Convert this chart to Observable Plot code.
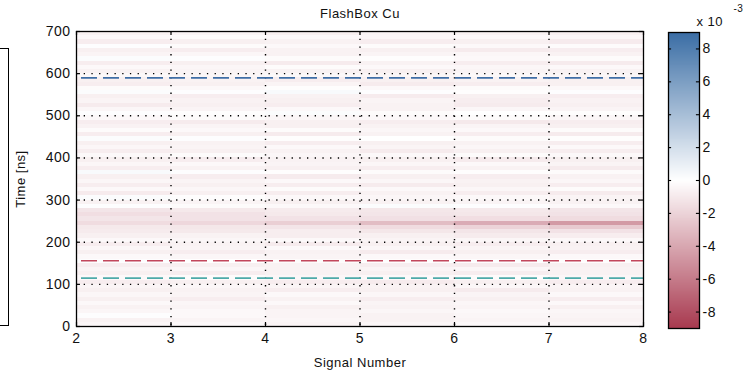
<!DOCTYPE html>
<html><head><meta charset="utf-8">
<script src="https://cdn.jsdelivr.net/npm/d3@7"></script>
<script src="https://cdn.jsdelivr.net/npm/@observablehq/plot@0.6"></script>
<style>
body{margin:0;background:#fff;}
#wrap{position:relative;width:750px;height:373px;overflow:hidden;background:#fff;}
#wrap svg{position:absolute;top:0;}
#cutbox{position:absolute;left:-2px;top:48px;width:9px;height:276px;border:1.3px solid #000;}
</style></head><body><div id="wrap"><div id="cutbox"></div></div>
<script>
// ---- data (values in units of 1e-3) ----
const title = "FlashBox Cu";
const xLabel = "Signal Number";
const yLabel = "Time [ns]";
const signalBins = [2, 3, 4, 5, 6, 7];           // left edge of each signal column (width 1)
const timeBins = [690,680,670,660,650,640,630,620,610,600,590,580,570,560,550,540,530,520,510,500,
  490,480,470,460,450,440,430,420,410,400,390,380,370,360,350,340,330,320,310,300,
  290,280,270,260,250,240,230,220,210,200,190,180,170,160,150,140,130,120,110,100,
  90,80,70,60,50,40,30,20,10,0];                   // lower edge of each 10 ns row
const values = [
[-0.6,-0.5,-0.7,-0.5,-0.6,-0.7],
[-0.3,-0.2,-0.3,-0.4,-0.3,-0.4],
[-0.8,-0.7,-0.6,-0.8,-0.7,-0.9],
[0.1,-0.2,-0.3,-0.2,-0.3,-0.2],
[-0.7,-0.8,-0.6,-0.7,-0.9,-0.8],
[-0.5,-0.4,-0.6,-0.5,-0.4,-0.6],
[0.2,0.1,-0.2,-0.1,-0.3,-0.2],
[-0.8,-0.7,-0.9,-0.6,-0.8,-0.9],
[-0.3,-0.4,-0.2,-0.3,-0.4,-0.3],
[-0.6,-0.5,-0.6,-0.7,-0.5,-0.6],
[-0.3,-0.4,-0.3,-0.4,-0.3,-0.4],
[-0.7,-0.6,-0.8,-0.7,-0.6,-0.7],
[-0.8,-0.7,-0.5,-0.9,-0.8,-0.7],
[-0.2,-0.3,-0.1,-0.3,-0.2,-0.3],
[0.2,0.1,0.3,0.1,-0.1,0.1],
[-0.7,-0.8,-0.6,-0.9,-0.7,-0.8],
[-0.5,-0.6,-0.7,-0.5,-0.8,-0.6],
[-0.9,-0.7,-0.8,-0.6,-0.9,-0.7],
[-0.4,-0.5,-0.3,-0.6,-0.4,-0.5],
[0.1,-0.1,0.2,-0.2,0.0,-0.1],
[-0.3,-0.2,-0.4,-0.3,-0.2,-0.4],
[-0.8,-0.9,-0.7,-0.8,-1.0,-0.8],
[-0.6,-0.5,-0.7,-0.6,-0.5,-0.7],
[-0.2,-0.3,-0.2,-0.4,-0.3,-0.2],
[-0.8,-0.7,-0.9,-0.6,-0.8,-0.9],
[0.2,0.1,-0.1,0.0,-0.2,-0.1],
[-0.7,-0.6,-0.8,-0.7,-0.6,-0.8],
[-0.4,-0.5,-0.3,-0.5,-0.4,-0.3],
[-0.8,-0.7,-0.6,-0.9,-0.7,-0.8],
[-0.3,-0.2,-0.4,-0.3,-0.2,-0.3],
[-0.7,-0.8,-0.6,-0.7,-0.9,-0.7],
[-0.4,-0.3,-0.5,-0.4,-0.3,-0.5],
[-0.8,-0.6,-0.7,-0.8,-0.6,-0.9],
[0.3,0.1,-0.1,-0.2,-0.1,-0.2],
[-0.7,-0.8,-0.9,-0.7,-0.8,-0.6],
[-0.4,-0.5,-0.3,-0.4,-0.6,-0.4],
[-0.8,-0.7,-0.8,-0.9,-0.7,-0.8],
[-0.3,-0.4,-0.2,-0.3,-0.4,-0.2],
[-0.9,-0.7,-0.8,-0.6,-0.8,-0.9],
[0.2,-0.1,-0.3,-0.4,-0.3,-0.5],
[-0.6,-0.5,-0.7,-0.6,-0.5,-0.6],
[0.1,-0.2,-0.3,0.2,0.1,-0.3],
[-1.2,-1.0,-0.9,-1.1,-1.0,-1.2],
[-1.5,-1.3,-1.0,-1.2,-1.1,-1.3],
[-1.2,-1.3,-1.3,-1.4,-1.5,-1.6],
[-1.6,-1.8,-2.2,-3.0,-3.8,-4.6],
[-1.0,-1.1,-1.2,-1.6,-2.0,-2.4],
[-0.9,-1.0,-0.8,-1.1,-1.2,-1.3],
[-0.7,-0.6,-0.8,-0.7,-0.9,-0.8],
[-0.3,-0.4,-0.3,-0.5,-0.4,-0.3],
[-0.8,-0.6,-0.9,-0.7,-0.8,-0.7],
[-0.4,-0.5,-0.3,-0.4,-0.5,-0.6],
[-0.7,-0.8,-0.6,-0.9,-0.7,-0.8],
[-0.3,-0.4,-0.5,-0.3,-0.4,-0.3],
[0.1,0.0,-0.2,-0.1,0.1,-0.1],
[-0.8,-0.7,-0.6,-0.8,-0.9,-0.7],
[-0.5,-0.4,-0.6,-0.5,-0.4,-0.6],
[-0.7,-0.8,-0.6,-0.7,-0.8,-0.6],
[-0.3,-0.2,-0.4,-0.3,-0.2,-0.4],
[-0.8,-0.7,-0.8,-0.9,-0.7,-0.8],
[-0.5,-0.4,-0.5,-0.6,-0.4,-0.5],
[-0.7,-0.6,-0.8,-0.7,-0.9,-0.6],
[-0.4,-0.5,-0.3,-0.4,-0.5,-0.3],
[-0.7,-0.8,-0.6,-0.8,-0.7,-0.8],
[-0.3,-0.4,-0.3,-0.5,-0.4,-0.3],
[-0.6,-0.5,-0.7,-0.6,-0.5,-0.7],
[-0.4,-0.3,-0.5,-0.4,-0.3,-0.4],
[0.1,-0.3,-0.5,-0.6,-0.4,-0.5],
[-0.6,-0.5,-0.4,-0.6,-0.5,-0.6],
[-0.4,-0.3,-0.5,-0.4,-0.3,-0.4]
];
const markerLines = [
  {t: 590, color: "#3f6ea6"},
  {t: 156, color: "#c2475c"},
  {t: 115, color: "#4eaaa9"}
];
const xTicks = [2, 3, 4, 5, 6, 7, 8];
const yTicks = [0, 100, 200, 300, 400, 500, 600, 700];
const xGrid = [3, 4, 5, 6, 7];
const yGrid = [100, 200, 300, 400, 500, 600];
const cbTicks = [-8, -6, -4, -2, 0, 2, 4, 6, 8];
const cbTickLabels = ["-8", "-6", "-4", "-2", "0", "2", "4", "6", "8"];
const cbDomain = [-9, 9];

// ---- build table ----
const cells = [];
timeBins.forEach((t, i) => signalBins.forEach((s, j) =>
  cells.push({x1: s, x2: s + 1, y1: t, y2: t + 10, v: values[i][j]})));

const colorScale = {type: "linear", domain: [-9, 0, 9], range: ["#a8394f", "#ffffff", "#3b6ea5"], clamp: true};
const font = {fontFamily: "'Liberation Sans', Arial, sans-serif", fontSize: "14px", letterSpacing: "0.5px", color: "#111", background: "transparent"};

const main = Plot.plot({
  width: 650, height: 373,
  marginLeft: 76, marginRight: 7, marginTop: 31, marginBottom: 47,
  style: font,
  x: {domain: [2, 8]},
  y: {domain: [0, 700]},
  color: colorScale,
  marks: [
    Plot.rect(cells, {x1: "x1", x2: "x2", y1: "y1", y2: "y2", fill: "v", shapeRendering: "crispEdges"}),
    Plot.ruleX(xGrid, {stroke: "#000", strokeWidth: 1.4, strokeDasharray: "1.3,6.4"}),
    Plot.ruleY(yGrid, {stroke: "#000", strokeWidth: 1.4, strokeDasharray: "1.3,6.4"}),
    Plot.ruleY(markerLines, {y: "t", stroke: "color", strokeWidth: 1.7, strokeDasharray: "16,6", strokeDashoffset: 17}),
    Plot.ruleX(xTicks, {y1: 0, y2: 9.5, stroke: "#000", strokeWidth: 1.2}),
    Plot.ruleX(xTicks, {y1: 690.5, y2: 700, stroke: "#000", strokeWidth: 1.2}),
    Plot.ruleY(yTicks, {x1: 2, x2: 2.042, stroke: "#000", strokeWidth: 1.2}),
    Plot.ruleY(yTicks, {x1: 7.958, x2: 8, stroke: "#000", strokeWidth: 1.2}),
    Plot.frame({stroke: "#000", strokeWidth: 1.3}),
    Plot.axisX(xTicks, {tickSize: 0, tickPadding: 7, label: null, tickFormat: d => String(d)}),
    Plot.axisY(yTicks, {tickSize: 0, tickPadding: 6, label: null, tickFormat: d => String(d)}),
    Plot.text([xLabel], {x: 5, y: 0, dy: 36, fontSize: 13}),
    Plot.text([yLabel], {x: 2, y: 350, dx: -56, rotate: -90, fontSize: 13}),
    Plot.text([title], {x: 5, y: 700, dy: -18, fontSize: 13})
  ]
});

const cbar = Plot.plot({
  width: 100, height: 373,
  marginLeft: 18, marginRight: 51, marginTop: 32, marginBottom: 45,
  style: font,
  x: {domain: [0, 1], axis: null},
  y: {domain: cbDomain, axis: null},
  color: colorScale,
  marks: [
    Plot.raster({x1: 0, x2: 1, y1: cbDomain[0], y2: cbDomain[1], width: 2, height: 300, fill: (x, y) => y, imageRendering: "auto"}),
    Plot.ruleY(cbTicks, {x1: 0, x2: 0.1, stroke: "#000", strokeWidth: 1.1}),
    Plot.ruleY(cbTicks, {x1: 0.9, x2: 1, stroke: "#000", strokeWidth: 1.1}),
    Plot.frame({stroke: "#000", strokeWidth: 1.3}),
    Plot.text(cbTicks, {x: 1, y: d => d, text: (d, i) => cbTickLabels[i], dx: 3, textAnchor: "start"}),
    Plot.text(["x 10"], {x: 1, y: cbDomain[1], dx: -3, dy: -11, textAnchor: "start", fontSize: 13}),
    Plot.text(["-3"], {x: 1, y: cbDomain[1], dx: 34, dy: -24, textAnchor: "start", fontSize: 10})
  ]
});

const wrap = document.getElementById("wrap");
main.style.left = "0px";
cbar.style.left = "650px";
wrap.appendChild(main);
wrap.appendChild(cbar);
</script>
</body></html>
